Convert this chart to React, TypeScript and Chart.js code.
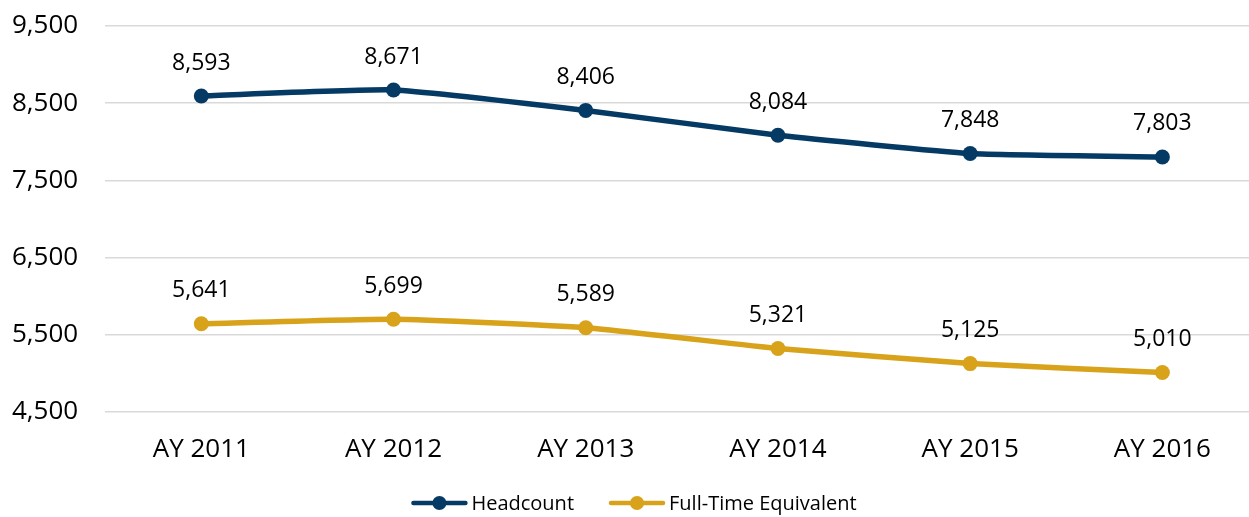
import React, { useEffect, useRef } from "react";
import { Chart, registerables } from "chart.js";

Chart.register(...registerables);

const categories = ["AY 2011", "AY 2012", "AY 2013", "AY 2014", "AY 2015", "AY 2016"];
const headcount = [8593, 8671, 8406, 8084, 7848, 7803];
const fte = [5641, 5699, 5589, 5321, 5125, 5010];
const seriesNames = ["Headcount", "Full-Time Equivalent"];
const seriesColors = ["#043a64", "#d8a21a"];
const yMin = 4500;
const yMax = 9500;
const yStep = 1000;

const FONT = "'Open Sans', sans-serif";
const fmt = (v: number) => v.toLocaleString("en-US");

const dataLabelPlugin = {
  id: "dataLabels",
  afterDatasetsDraw(chart: any) {
    const ctx = chart.ctx;
    ctx.save();
    ctx.font = `23px ${FONT}`;
    ctx.fillStyle = "#000000";
    ctx.textAlign = "center";
    ctx.textBaseline = "middle";
    chart.data.datasets.forEach((ds: any, i: number) => {
      const meta = chart.getDatasetMeta(i);
      meta.data.forEach((pt: any, j: number) => {
        ctx.fillText(fmt(ds.data[j]), pt.x, pt.y - 33);
      });
    });
    ctx.restore();
  },
};

const customLegendPlugin = {
  id: "customLegend",
  afterDraw(chart: any) {
    const ctx = chart.ctx;
    ctx.save();
    ctx.font = `20px ${FONT}`;
    const lineLen = 56;
    const gapText = 4;
    const gapItems = 35;
    const widths = chart.data.datasets.map(
      (ds: any) => lineLen + gapText + ctx.measureText(ds.label).width
    );
    const total = widths.reduce((a: number, b: number) => a + b, 0) + gapItems * (widths.length - 1);
    let x = 634 - total / 2;
    const y = 503;
    chart.data.datasets.forEach((ds: any, i: number) => {
      ctx.strokeStyle = ds.borderColor;
      ctx.lineWidth = 4.5;
      ctx.lineCap = "round";
      ctx.beginPath();
      ctx.moveTo(x + 2, y);
      ctx.lineTo(x + lineLen - 2, y);
      ctx.stroke();
      ctx.fillStyle = ds.borderColor;
      ctx.beginPath();
      ctx.arc(x + lineLen / 2, y, 7, 0, Math.PI * 2);
      ctx.fill();
      ctx.fillStyle = "#000000";
      ctx.textAlign = "left";
      ctx.textBaseline = "middle";
      ctx.fillText(ds.label, x + lineLen + gapText, y + 1);
      x += widths[i] + gapItems;
    });
    ctx.restore();
  },
};

export default function App() {
  const ref = useRef<HTMLCanvasElement>(null);

  useEffect(() => {
    if (!ref.current) return;
    const mk = (label: string, data: number[], color: string) => ({
      label,
      data,
      borderColor: color,
      backgroundColor: color,
      borderWidth: 5.5,
      pointRadius: 7.5,
      pointHoverRadius: 7.5,
      pointBackgroundColor: color,
      pointBorderWidth: 0,
      tension: 0.15,
      fill: false,
    });
    const chart = new Chart(ref.current, {
      type: "line",
      data: {
        labels: categories,
        datasets: [
          mk(seriesNames[0], headcount, seriesColors[0]),
          mk(seriesNames[1], fte, seriesColors[1]),
        ],
      },
      options: {
        responsive: false,
        animation: false,
        devicePixelRatio: 1,
        layout: { padding: { top: 26, left: 12, right: 0, bottom: 52 } },
        plugins: {
          legend: { display: false },
          tooltip: { enabled: false },
        },
        scales: {
          x: {
            offset: true,
            grid: {
              display: true,
              drawOnChartArea: false,
              drawTicks: true,
              tickLength: 22,
              tickColor: "rgba(0,0,0,0)",
            },
            border: { display: false },
            ticks: {
              color: "#000000",
              font: { family: FONT, size: 26 },
              padding: 0,
              maxRotation: 0,
            },
          },
          y: {
            min: yMin,
            max: yMax,
            grid: {
              color: "#d9d9d9",
              lineWidth: 1.5,
              drawTicks: true,
              tickLength: 27,
              tickColor: "rgba(0,0,0,0)",
            },
            border: { display: false },
            ticks: {
              stepSize: yStep,
              color: "#000000",
              font: { family: FONT, size: 26 },
              padding: 0,
              callback: (v: any) => fmt(Number(v)),
            },
          },
        },
      },
      plugins: [dataLabelPlugin, customLegendPlugin],
    });
    return () => chart.destroy();
  }, []);

  return (
    <div
      style={{
        position: "fixed",
        left: 0,
        top: 0,
        width: 1249,
        height: 517,
        overflow: "hidden",
        background: "#ffffff",
      }}
    >
      <canvas ref={ref} width={1266} height={517} style={{ width: 1266, height: 517, display: "block" }} />
    </div>
  );
}
